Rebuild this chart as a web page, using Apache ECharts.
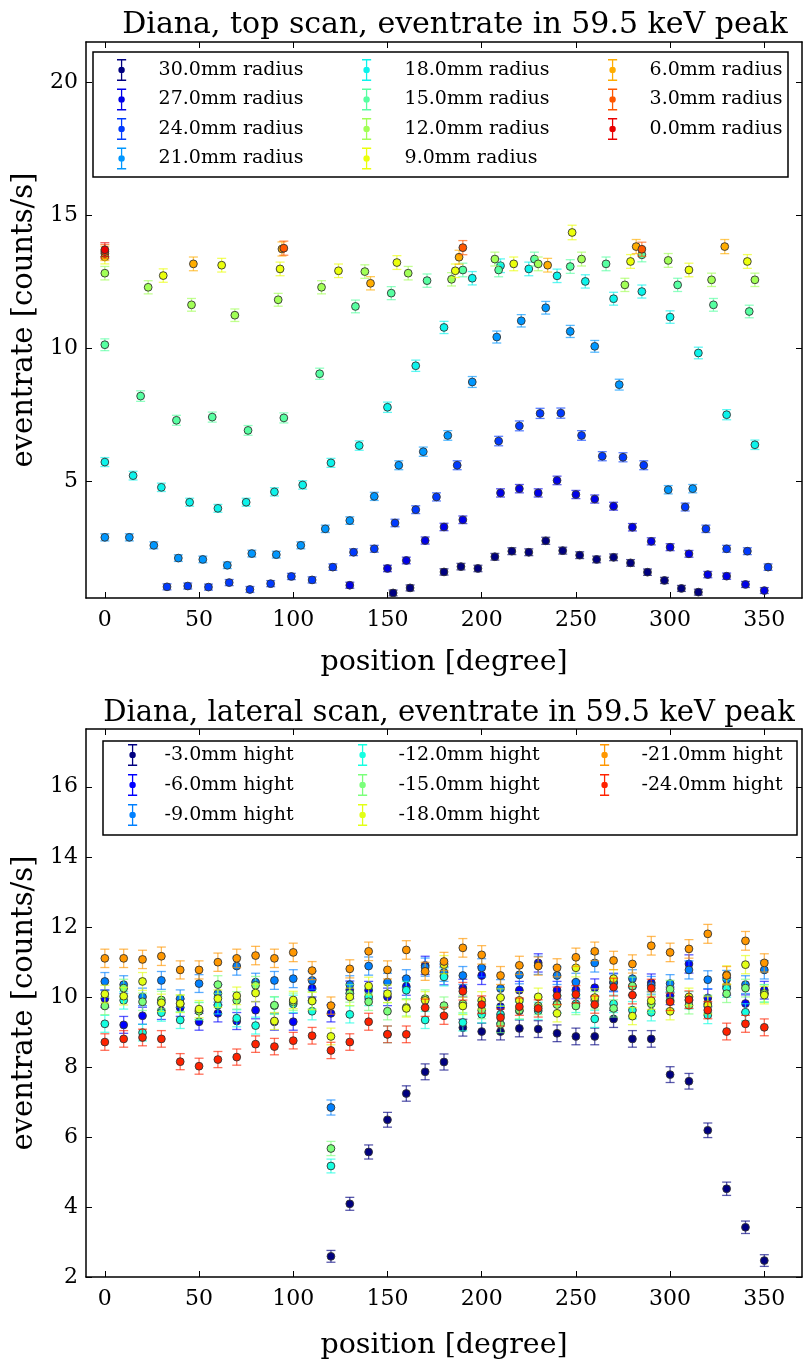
<!DOCTYPE html>
<html>
<head>
<meta charset="utf-8">
<script src="https://cdn.jsdelivr.net/npm/echarts@6/dist/echarts.min.js"></script>
<style>html,body{margin:0;padding:0;background:#fff}#c{width:803px;height:1361px}</style>
</head>
<body>
<div id="c"></div>
<script>
// ---------------- DATA: top scan (position in degree, eventrate in counts/s) ----------------
const pos30 = [153, 162, 180, 189, 198, 207, 216, 225, 234, 243, 252, 261, 270, 279, 288, 297, 306, 315];
const rate30 = [0.79, 0.98, 1.58, 1.78, 1.71, 2.15, 2.36, 2.32, 2.75, 2.38, 2.21, 2.05, 2.13, 1.92, 1.57, 1.26, 0.96, 0.82];
const pos27 = [130, 150, 160, 170, 180, 190, 210, 220, 230, 240, 250, 260, 270, 280, 290, 300, 310, 320, 330, 340, 350];
const rate27 = [1.08, 1.71, 2.01, 2.76, 3.27, 3.54, 4.55, 4.71, 4.55, 5.02, 4.49, 4.32, 4.05, 3.26, 2.73, 2.51, 2.26, 1.48, 1.42, 1.11, 0.88];
const pos24 = [33, 44, 55, 66, 77, 88, 99, 110, 121, 132, 143, 154, 165, 176, 187, 209, 220, 231, 242, 253, 264, 275, 286, 308, 319, 330, 341, 352];
const rate24 = [1.02, 1.05, 1.01, 1.18, 0.92, 1.14, 1.41, 1.28, 1.76, 2.32, 2.45, 3.42, 3.92, 4.40, 5.59, 6.50, 7.07, 7.54, 7.55, 6.71, 5.93, 5.89, 5.59, 4.02, 3.20, 2.45, 2.36, 1.76];
const pos21 = [0, 13, 26, 39, 52, 65, 78, 91, 104, 117, 130, 143, 156, 169, 182, 195, 208, 221, 234, 247, 260, 273, 299, 312];
const rate21 = [2.88, 2.88, 2.58, 2.10, 2.05, 1.83, 2.27, 2.23, 2.58, 3.20, 3.51, 4.42, 5.59, 6.10, 6.71, 8.72, 10.41, 11.02, 11.51, 10.62, 10.06, 8.62, 4.67, 4.71];
const pos18 = [0, 15, 30, 45, 60, 75, 90, 105, 120, 135, 150, 165, 180, 195, 210, 225, 240, 255, 270, 285, 300, 315, 330, 345];
const rate18 = [5.71, 5.20, 4.76, 4.20, 3.97, 4.20, 4.59, 4.85, 5.68, 6.33, 7.77, 9.33, 10.77, 12.62, 13.09, 12.97, 12.71, 12.50, 11.85, 12.12, 11.16, 9.81, 7.49, 6.36];
const pos15 = [0, 19, 38, 57, 76, 95, 114, 133, 152, 171, 190, 209, 228, 247, 266, 285, 304, 323, 342];
const rate15 = [10.12, 8.19, 7.28, 7.40, 6.90, 7.37, 9.03, 11.56, 12.06, 12.53, 12.93, 12.93, 13.34, 13.06, 13.16, 13.50, 12.37, 11.62, 11.37];
const pos12 = [0, 23, 46, 69, 92, 115, 138, 161, 184, 207, 230, 253, 276, 299, 322, 345];
const rate12 = [12.81, 12.28, 11.62, 11.23, 11.81, 12.28, 12.87, 12.81, 12.58, 13.34, 13.16, 13.34, 12.37, 13.29, 12.56, 12.56];
const pos9 = [0, 31, 62, 93, 124, 155, 186, 217, 248, 279, 310, 341];
const rate9 = [13.42, 12.72, 13.11, 12.97, 12.90, 13.21, 12.90, 13.16, 14.34, 13.25, 12.93, 13.25];
const pos6 = [0, 47, 94, 141, 188, 235, 282, 329];
const rate6 = [13.55, 13.16, 13.72, 12.43, 13.41, 13.11, 13.81, 13.81];
const pos3 = [0, 95, 190, 285];
const rate3 = [13.62, 13.75, 13.77, 13.71];
const pos0 = [0];
const rate0 = [13.69];
const topLabels = ['30.0mm radius', '27.0mm radius', '24.0mm radius', '21.0mm radius', '18.0mm radius', '15.0mm radius',
                   '12.0mm radius', '9.0mm radius', '6.0mm radius', '3.0mm radius', '0.0mm radius'];

// ---------------- DATA: lateral scan ----------------
const latPos = [0, 10, 20, 30, 40, 50, 60, 70, 80, 90, 100, 110, 120, 130, 140, 150, 160, 170, 180, 190, 200, 210, 220, 230, 240, 250, 260, 270, 280, 290, 300, 310, 320, 330, 340, 350];
const hight3 = [null, null, null, null, null, null, null, null, null, null, null, null, 2.59, 4.09, 5.57, 6.49, 7.24, 7.86, 8.14, 9.12, 9.01, 9.01, 9.10, 9.08, 8.96, 8.87, 8.87, 9.37, 8.80, 8.80, 7.78, 7.59, 6.19, 4.52, 3.42, 2.47];
const hight6 = [9.95, 9.20, 9.46, 9.60, 9.69, 9.29, 9.53, 9.31, 9.62, 9.29, 9.29, 10.25, 9.53, 10.20, 10.19, 10.00, 10.30, 10.90, 10.60, 10.25, 10.61, 9.72, 10.19, 10.97, 10.19, 10.20, 10.26, 10.42, 10.30, 10.40, 10.03, 10.94, 9.97, 10.30, 9.81, 10.19];
const hight9 = [10.44, 10.35, 10.00, 10.47, 9.95, 10.38, 10.10, 10.88, 10.42, 10.47, 10.52, 10.47, 6.84, 10.35, 10.88, 10.42, 10.52, 10.85, 10.70, 10.61, 10.83, 10.24, 10.63, 10.90, 10.61, 10.42, 10.97, 10.40, 10.52, 10.33, 10.38, 10.77, 10.49, 10.50, 10.35, 10.77];
const hight12 = [9.23, 9.90, 8.98, 9.55, 9.34, 9.60, 9.76, 9.39, 9.18, 9.75, 9.80, 9.59, 5.17, 9.50, 10.00, 8.93, 10.19, 9.34, 10.57, 9.27, 9.50, 9.50, 9.60, 9.60, 9.80, 9.80, 9.37, 9.80, 9.62, 9.56, 9.90, 9.90, 9.48, 10.24, 9.56, 10.10];
const hight15 = [9.74, 10.25, 9.86, 9.91, 9.80, 9.59, 10.35, 9.90, 10.33, 9.76, 9.86, 9.90, 5.67, 10.10, 9.86, 9.59, 9.70, 9.95, 9.75, 9.80, 9.62, 9.22, 9.62, 9.74, 9.78, 9.74, 9.90, 9.67, 10.31, 9.80, 10.22, 9.76, 9.80, 10.09, 10.25, 10.10];
const hight18 = [10.08, 10.02, 10.44, 9.83, 9.81, 9.65, 9.95, 10.03, 10.11, 9.31, 9.91, 9.88, 8.87, 10.00, 10.31, 10.09, 9.67, 9.90, 10.92, 9.74, 9.90, 9.98, 9.90, 10.00, 9.53, 10.83, 9.98, 10.52, 9.45, 9.89, 9.59, 10.00, 9.76, 10.63, 10.92, 10.05];
const hight21 = [11.10, 11.10, 11.07, 11.16, 10.77, 10.77, 10.99, 11.10, 11.18, 11.10, 11.27, 10.75, 9.75, 10.80, 11.30, 10.77, 11.34, 10.73, 11.01, 11.40, 11.20, 10.61, 10.90, 10.88, 10.83, 11.13, 11.30, 11.04, 10.94, 11.46, 11.27, 11.37, 11.80, 10.61, 11.60, 10.97];
const hight24 = [8.71, 8.80, 8.84, 8.80, 8.15, 8.02, 8.21, 8.28, 8.65, 8.58, 8.75, 8.89, 8.47, 8.71, 9.29, 8.93, 8.93, 9.69, 9.46, 10.16, 9.78, 9.41, 9.72, 9.67, 10.03, 10.07, 9.78, 10.28, 10.05, 10.25, 9.86, 9.92, 9.62, 9.01, 9.23, 9.13];
const latLabels = ['-3.0mm hight', '-6.0mm hight', '-9.0mm hight', '-12.0mm hight', '-15.0mm hight', '-18.0mm hight', '-21.0mm hight', '-24.0mm hight'];

// tick values
const xTicks = [0, 50, 100, 150, 200, 250, 300, 350];
const topYTicks = [5, 10, 15, 20];
const latYTicks = [2, 4, 6, 8, 10, 12, 14, 16];

// ---------------- styling ----------------
const FONT = '"DejaVu Serif", serif';
const topColors = ['#000080', '#0000e9', '#003aff', '#0097ff', '#0bf3eb', '#56ffa1', '#a1ff56', '#ebff0b', '#ffad00', '#ff5700', '#e90000'];
const latColors = ['#000080', '#0000ff', '#0080ff', '#15ffe1', '#7bff7b', '#e2ff15', '#ff9700', '#ff2200'];
const ERR_ICON = 'path://M0,0H10V1.6H5.7V22.4H10V24H0V22.4H4.3V1.6H0Z M1.5,12A3.5,3.5,0,1,1,8.5,12A3.5,3.5,0,1,1,1.5,12Z';

function hexA(hex, a) {
  const n = parseInt(hex.slice(1), 16);
  return 'rgba(' + (n >> 16) + ',' + ((n >> 8) & 255) + ',' + (n & 255) + ',' + a + ')';
}

function renderErr(params, api) {
  const x = api.value(0), y = api.value(1), e = api.value(2);
  const c = api.coord([x, y]);
  const hi = api.coord([x, y + e]);
  const lo = api.coord([x, y - e]);
  const col = api.visual('color');
  const ec = hexA(col, 0.65);
  const cap = 4.5;
  return {
    type: 'group',
    children: [
      { type: 'line', shape: { x1: c[0], y1: lo[1], x2: c[0], y2: hi[1] }, style: { stroke: ec, lineWidth: 1.3 } },
      { type: 'line', shape: { x1: c[0] - cap, y1: hi[1], x2: c[0] + cap, y2: hi[1] }, style: { stroke: ec, lineWidth: 1.3 } },
      { type: 'line', shape: { x1: c[0] - cap, y1: lo[1], x2: c[0] + cap, y2: lo[1] }, style: { stroke: ec, lineWidth: 1.3 } },
      { type: 'circle', shape: { cx: c[0], cy: c[1], r: 3.9 }, style: { fill: col, stroke: '#333', lineWidth: 0.9 } }
    ]
  };
}

function makeSeries(name, xs, ys, color, axisIdx, errA, errB) {
  const data = [];
  xs.forEach((x, i) => { if (ys[i] != null) data.push([x, ys[i], errA + errB * ys[i]]); });
  return {
    type: 'custom', name: name, xAxisIndex: axisIdx, yAxisIndex: axisIdx,
    itemStyle: { color: color }, renderItem: renderErr, data: data,
    encode: { x: 0, y: 1 }, silent: true
  };
}

const topX = [pos30, pos27, pos24, pos21, pos18, pos15, pos12, pos9, pos6, pos3, pos0];
const topY = [rate30, rate27, rate24, rate21, rate18, rate15, rate12, rate9, rate6, rate3, rate0];
const latY = [hight3, hight6, hight9, hight12, hight15, hight18, hight21, hight24];

const series = [];
topLabels.forEach((n, i) => series.push(makeSeries(n, topX[i], topY[i], topColors[i], 0, 0.10, 0.012)));
latLabels.forEach((n, i) => series.push(makeSeries(n, latPos, latY[i], latColors[i], 2, 0.14, 0.011)));

const lineStyle = { color: '#000', width: 1.5 };
function xAx(grid, pos, withLabels, name, gap) {
  return {
    type: 'value', gridIndex: grid, min: -10, max: 370, position: pos,
    splitLine: { show: false },
    axisLine: { show: true, onZero: false, lineStyle: lineStyle },
    axisTick: { show: true, inside: true, length: 6, customValues: xTicks, lineStyle: { color: '#000', width: 1 } },
    axisLabel: { show: withLabels, customValues: xTicks, fontFamily: FONT, fontSize: 22, color: '#000', margin: 11 },
    name: withLabels ? name : '', nameLocation: 'middle', nameGap: gap,
    nameTextStyle: { fontFamily: FONT, fontSize: 28.5, color: '#000' }
  };
}
function yAx(grid, pos, withLabels, mn, mx, ticks, name) {
  return {
    type: 'value', gridIndex: grid, min: mn, max: mx, position: pos,
    splitLine: { show: false },
    axisLine: { show: true, onZero: false, lineStyle: lineStyle },
    axisTick: { show: true, inside: true, length: 6, customValues: ticks, lineStyle: { color: '#000', width: 1 } },
    axisLabel: { show: withLabels, customValues: ticks, fontFamily: FONT, fontSize: 22, color: '#000', margin: 8 },
    name: withLabels ? name : '', nameLocation: 'middle', nameGap: 31,
    nameTextStyle: { fontFamily: FONT, fontSize: 29, color: '#000' }
  };
}

function legendCol(labels, idx, left, top, gap, pad) {
  return {
    left: left, top: top, orient: 'vertical', padding: 0, itemGap: gap, itemWidth: 10, itemHeight: 22,
    selectedMode: false,
    data: idx.map(i => ({ name: labels[i], icon: ERR_ICON })),
    formatter: n => '{g|}' + n,
    textStyle: { fontFamily: FONT, fontSize: 19, color: '#000', rich: { g: { width: pad } } }
  };
}

const option = {
  animation: false,
  backgroundColor: '#fff',
  title: [
    { text: 'Diana, top scan, eventrate in 59.5 keV peak', left: 450, top: 5, textAlign: 'center',
      textStyle: { fontFamily: FONT, fontSize: 30, fontWeight: 'normal', color: '#000' } },
    { text: 'Diana, lateral scan, eventrate in 59.5 keV peak', left: 444, top: 694, textAlign: 'center',
      textStyle: { fontFamily: FONT, fontSize: 29, fontWeight: 'normal', color: '#000' } }
  ],
  grid: [
    { left: 86, top: 42, width: 716, height: 556 },
    { left: 86, top: 729, width: 716, height: 550 }
  ],
  xAxis: [
    xAx(0, 'bottom', true, 'position [degree]', 50), xAx(0, 'top', false, '', 0),
    xAx(1, 'bottom', true, 'position [degree]', 54), xAx(1, 'top', false, '', 0)
  ],
  yAxis: [
    yAx(0, 'left', true, 0.6, 21.5, topYTicks, 'eventrate [counts/s]'), yAx(0, 'right', false, 0.6, 21.5, topYTicks, ''),
    yAx(1, 'left', true, 2, 17.65, latYTicks, 'eventrate [counts/s]'), yAx(1, 'right', false, 2, 17.65, latYTicks, '')
  ],
  legend: [
    legendCol(topLabels, [0, 1, 2, 3], 117, 59, 7.5, 27),
    legendCol(topLabels, [4, 5, 6, 7], 362, 59, 7.5, 28),
    legendCol(topLabels, [8, 9, 10], 608, 59, 7.5, 27),
    legendCol(latLabels, [0, 1, 2], 128, 744, 8, 22),
    legendCol(latLabels, [3, 4, 5], 358, 744, 8, 26),
    legendCol(latLabels, [6, 7], 600, 744, 8, 27)
  ],
  graphic: [
    { type: 'rect', shape: { x: 93, y: 52, width: 695, height: 125 }, style: { fill: 'none', stroke: '#000', lineWidth: 1.5 }, z: 100 },
    { type: 'rect', shape: { x: 103, y: 741, width: 694, height: 94 }, style: { fill: 'none', stroke: '#000', lineWidth: 1.5 }, z: 100 }
  ],
  series: series
};

const chart = echarts.init(document.getElementById('c'), null, { renderer: 'canvas' });
chart.setOption(option);
</script>
</body>
</html>
